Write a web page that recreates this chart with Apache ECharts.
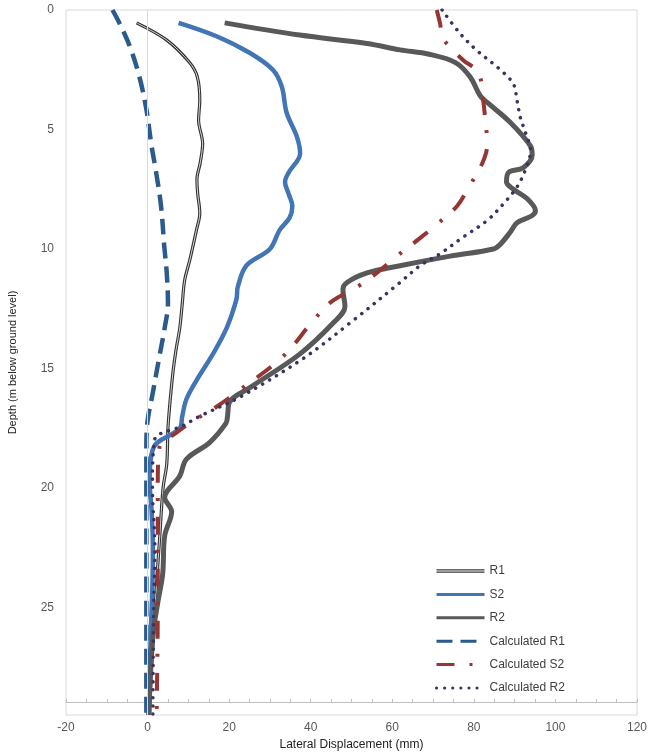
<!DOCTYPE html>
<html><head><meta charset="utf-8">
<script src="https://cdn.jsdelivr.net/npm/echarts@6/dist/echarts.min.js"></script>
<style>html,body{margin:0;padding:0;background:#fff}#c{width:651px;height:753px}</style>
</head><body><div id="c"></div>
<script>
// Measured profiles: depth (m below ground level) and lateral displacement (mm)
const r1Depth = [0.54, 1.26, 2.2, 2.8, 3.8, 4.6, 5.6, 6.4, 7.1, 7.7, 8.5, 9.2, 9.9, 10.5, 11.3, 12.3, 13.3, 14.2, 15.2, 16.6, 17.5, 19, 20, 22, 24, 26, 28, 29.5];
const r1Disp  = [-2.7, 4.7, 10.3, 12.2, 12.8, 12.5, 13.5, 12.9, 12.1, 12.3, 12.8, 12.0, 11.1, 10.3, 9.1, 8.5, 7.9, 7.0, 6.2, 5.4, 5.0, 4.7, 3.8, 3.0, 2.2, 1.5, 0.8, 0.5];

const s2Depth = [0.54, 1.1, 1.8, 2.5, 3.2, 4.3, 5.3, 6.0, 6.8, 7.2, 7.7, 8.2, 8.7, 9.2, 10.0, 10.7, 11.6, 12.1, 13.3, 14.4, 15.5, 16.3, 17.0, 17.5, 18.3, 19.7, 21, 22.5, 24, 26, 28, 29.5];
const s2Disp  = [7.6, 16.9, 25.1, 30.7, 32.9, 34.1, 36.6, 37.4, 34.6, 33.7, 34.6, 35.5, 34.8, 32.4, 30.0, 24.2, 22.1, 21.8, 19.4, 16.0, 12.0, 9.5, 8.5, 7.9, 1.5, 0.5, 1.0, 1.3, 1.2, 0.8, 0.5, 0.3];

const r2Depth = [0.54, 1.05, 1.4, 1.67, 1.85, 2.2, 2.8, 3.6, 3.9, 4.7, 5.7, 6.07, 6.6, 6.8, 7.2, 7.5, 7.9, 8.4, 8.6, 8.9, 9.3, 9.8, 10.0, 10.3, 10.7, 11.0, 11.4, 11.7, 12.4, 13.1, 14.4, 15.8, 16.4, 17.0, 17.3, 18.1, 18.8, 19.5, 20.4, 21.0, 22.0, 23.6, 24.8, 26.2, 29.5];
const r2Disp  = [18.9, 37.3, 53.8, 61.9, 69.0, 75.5, 79.1, 81.6, 83.5, 88.9, 93.9, 94.3, 92.1, 88.5, 88.0, 89.7, 93.1, 95.1, 94.3, 90.6, 88.9, 86.5, 84.8, 74.2, 61.9, 53.8, 48.9, 47.9, 48.4, 45.5, 37.3, 25.1, 20.1, 19.6, 19.2, 15.2, 9.5, 7.9, 4.2, 5.9, 4.2, 3.7, 2.5, 1.3, 0.3];

// Calculated profiles
const cr1Depth = [0, 0.55, 1.5, 2.8, 4.2, 5.6, 6.8, 8.2, 9.9, 11.0, 12.3, 13.3, 14.5, 16.0, 17.2, 18.3, 29.5];
const cr1Disp  = [-8.6, -6.9, -4.4, -2.0, -0.25, 0.9, 2.1, 3.3, 4.1, 4.7, 5.0, 4.2, 2.9, 1.3, 0.0, -0.3, -0.3];

const cs2Depth = [0, 0.55, 1.2, 2.1, 2.6, 3.8, 4.6, 5.6, 6.4, 7.4, 8.2, 8.9, 9.6, 10.3, 11.0, 11.6, 12.2, 13.0, 14.5, 15.9, 16.6, 17.2, 17.7, 18.3, 20, 25, 29.5];
const cs2Disp  = [70.9, 71.7, 72.5, 77.4, 81.1, 82.3, 82.8, 83.3, 82.1, 78.8, 75.9, 71.4, 66.4, 61.1, 56.2, 51.3, 45.1, 40.6, 33.2, 22.6, 16.9, 11.1, 7.0, 2.9, 2.5, 2.5, 2.2];

const cr2Depth = [0, 1.0, 1.7, 2.5, 3.1, 3.8, 4.5, 5.1, 5.9, 6.7, 7.4, 8.1, 8.8, 9.5, 10.2, 10.7, 11.4, 13.1, 14.6, 16.2, 17.0, 17.4, 18.0, 20, 22.5, 25, 29.5];
const cr2Disp  = [72.2, 76.7, 80.8, 86.5, 89.7, 90.6, 91.4, 92.6, 93.9, 92.6, 90.6, 87.3, 83.3, 77.4, 71.7, 66.8, 61.9, 49.6, 38.0, 22.6, 12.8, 8.6, 1.7, 1.2, 1.8, 1.5, 1.3];

const seriesNames = ['R1', 'S2', 'R2', 'Calculated R1', 'Calculated S2', 'Calculated R2'];
const xTickValues = [-20, 0, 20, 40, 60, 80, 100, 120];
const yTickValues = [0, 5, 10, 15, 20, 25];

const pairs = (xs, ys) => xs.map((x, i) => [x, ys[i]]);
const FONT = 'Liberation Sans, Arial, sans-serif';

const chart = echarts.init(document.getElementById('c'), null, {renderer: 'canvas'});
chart.setOption({
  animation: false,
  backgroundColor: '#fff',
  textStyle: {fontFamily: FONT},
  grid: [
    {left: 66, right: 14, top: 10, bottom: 38, show: true, borderColor: '#d9d9d9', borderWidth: 1,
     backgroundColor: 'transparent', containLabel: false, outerBoundsMode: 'none'},
    {left: 66, right: 14, top: 10, bottom: 51, show: false, containLabel: false, outerBoundsMode: 'none'}
  ],
  xAxis: [
    {type: 'value', gridIndex: 0, min: xTickValues[0], max: xTickValues[xTickValues.length - 1], interval: 20,
     name: 'Lateral Displacement (mm)', nameLocation: 'middle', nameGap: 22,
     nameTextStyle: {color: '#222', fontSize: 12, fontFamily: FONT},
     axisLine: {show: false}, axisTick: {show: false}, splitLine: {show: false},
     axisLabel: {color: '#595959', fontSize: 12, margin: 7, fontFamily: FONT}},
    {type: 'value', gridIndex: 1, min: -20, max: 120, interval: 5,
     axisLine: {show: true, onZero: false, lineStyle: {color: '#bfbfbf', width: 1}},
     axisTick: {show: true, inside: true, length: 3, lineStyle: {color: '#bfbfbf'}},
     axisLabel: {show: false}, splitLine: {show: false}}
  ],
  yAxis: [
    {type: 'value', gridIndex: 0, inverse: true, min: 0, max: 29.5, interval: 5,
     name: 'Depth (m below ground level)', nameLocation: 'middle', nameGap: 48,
     nameTextStyle: {color: '#222', fontSize: 11, fontFamily: FONT},
     axisLine: {show: false}, axisTick: {show: false}, splitLine: {show: false},
     axisLabel: {color: '#595959', fontSize: 12, margin: 12, showMaxLabel: false, fontFamily: FONT}},
    {type: 'value', gridIndex: 1, min: 0, max: 1, show: false}
  ],
  legend: {
    orient: 'vertical', left: 430, top: 559, itemWidth: 48, itemHeight: 14, itemGap: 9.4,
    textStyle: {color: '#404040', fontSize: 12, fontFamily: FONT, lineHeight: 14},
    itemStyle: {opacity: 0},
    lineStyle: {width: 3},
    data: [
      {name: seriesNames[0], icon: 'path://M0,0H48V1.2H0Z M0,2.1H48V3.3H0Z', itemStyle: {opacity: 1, color: '#3a3a3a'}},
      seriesNames[1], seriesNames[2], seriesNames[3], seriesNames[4], seriesNames[5]
    ]
  },
  series: [
    {name: 'zero', type: 'line', data: [], silent: true, z: 1,
     markLine: {silent: true, symbol: ['none', 'none'], label: {show: false},
       lineStyle: {color: '#d9d9d9', width: 1, type: 'solid'}, data: [{xAxis: 0}]}},
    {name: seriesNames[0], type: 'line', data: pairs(r1Disp, r1Depth), smooth: 0.35, showSymbol: false, symbol: 'none',
     color: '#333333', lineStyle: {color: '#333333', width: 3.2}, z: 2},
    {name: 'R1core', type: 'line', data: pairs(r1Disp, r1Depth), smooth: 0.35, showSymbol: false, symbol: 'none',
     lineStyle: {color: '#ffffff', width: 1, opacity: 0.8}, z: 2, silent: true},
    {name: seriesNames[1], type: 'line', data: pairs(s2Disp, s2Depth), smooth: 0.35, showSymbol: false, symbol: 'none',
     color: '#4275b5', lineStyle: {color: '#4275b5', width: 4.5}, z: 3},
    {name: seriesNames[2], type: 'line', data: pairs(r2Disp, r2Depth), smooth: 0.35, showSymbol: false, symbol: 'none',
     color: '#595959', lineStyle: {color: '#595959', width: 5}, z: 3},
    {name: seriesNames[3], type: 'line', data: pairs(cr1Disp, cr1Depth), smooth: 0.35, showSymbol: false, symbol: 'none',
     color: '#2b5a8c', lineStyle: {color: '#2b5a8c', width: 4.5, type: [16, 8], cap: 'butt'}, z: 4},
    {name: seriesNames[4], type: 'line', data: pairs(cs2Disp, cs2Depth), smooth: 0.35, showSymbol: false, symbol: 'none',
     color: '#943634', lineStyle: {color: '#943634', width: 4, type: [18, 15, 3, 16], cap: 'butt'}, z: 4},
    {name: seriesNames[5], type: 'line', data: pairs(cr2Disp, cr2Depth), smooth: 0.35, showSymbol: false, symbol: 'none',
     color: '#3d3160', lineStyle: {color: '#3d3160', width: 3.5, type: [0.1, 8], cap: 'round'}, z: 4}
  ]
});
</script>
</body></html>
